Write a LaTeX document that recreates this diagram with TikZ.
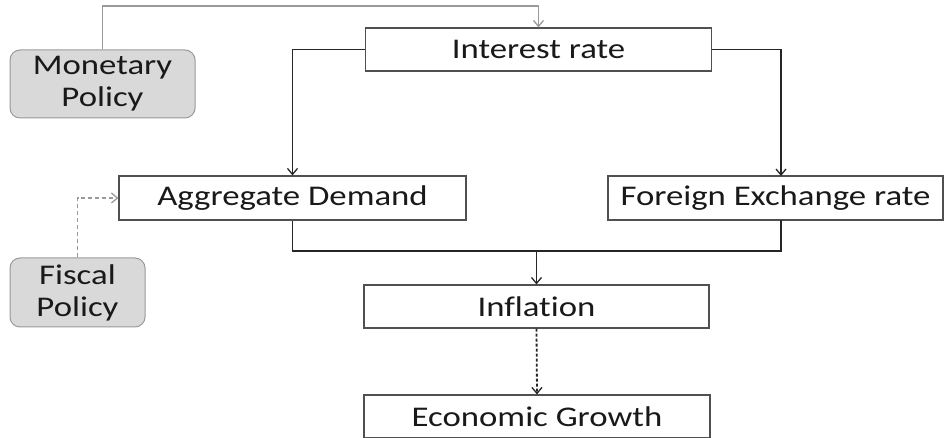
\documentclass[tikz,border=0pt]{standalone}
\usepackage{fontspec}
\setmainfont{Carlito}[FakeStretch=1.22, Ligatures=NoCommon]
\usetikzlibrary{arrows.meta}
\definecolor{linegray}{HTML}{9A9A9A}
\definecolor{fillgray}{HTML}{D9D9D9}
\definecolor{boxgray}{HTML}{505050}
\tikzset{
  x=1pt, y=1pt,
  box/.style={draw=boxgray, line width=1.1pt, fill=white, rectangle, inner sep=0pt,
    font=\fontsize{28.5}{30}\selectfont, text=black!90},
  policy/.style={draw=linegray, line width=1pt, fill=fillgray, rectangle, rounded corners=10pt,
    inner sep=0pt, align=center, font=\fontsize{28.5}{32}\selectfont, text=black!90},
  conn/.style={draw=black!85, line width=1.8pt},
  grayconn/.style={draw=linegray, line width=1.3pt},
  tip/.style={-{Straight Barb[length=6pt,width=10pt,line width=1.3pt]}},
}
\begin{document}
\begin{tikzpicture}
\useasboundingbox (0,0) rectangle (948,438);
% boxes (pixel coords, y flipped)
\node[box, minimum width=346pt, minimum height=43pt] (ir) at (538.5,388.5) {Interest rate};
\node[policy, minimum width=185pt, minimum height=68pt] (mp) at (102.5,354) {Monetary\\Policy};
\node[box, minimum width=347pt, minimum height=44pt] (ad) at (292.5,240) {Aggregate Demand};
\node[box, minimum width=335pt, minimum height=44pt] (fx) at (775.5,240) {Foreign Exchange rate};
\node[policy, minimum width=135pt, minimum height=69pt] (fp) at (77.5,145.5) {Fiscal\\Policy};
\node[box, minimum width=345pt, minimum height=43pt] (inf) at (536.5,131.5) {Inflation};
\node[box, minimum width=346pt, minimum height=43pt] (eg) at (537,21.5) {Economic Growth};
% coordinates
\coordinate (top) at (538.5,432);
\coordinate (fxin) at (781,262);
\coordinate (fxout) at (781,218);
\coordinate (j) at (536.5,187);
% connectors
\draw[grayconn, tip] (mp.north) |- (top) -- (ir.north);
\draw[conn, tip] (ir.west) -| (ad.north);
\draw[conn, tip] (ir.east) -| (fxin);
\draw[conn] (ad.south) |- (j);
\draw[conn] (fxout) |- (j);
\draw[conn, tip] (j) -- (inf.north);
\draw[conn, dash pattern=on 3pt off 2pt, tip] (inf.south) -- (eg.north);
\draw[grayconn, dash pattern=on 4pt off 3pt, tip] (fp.north) |- (ad.west);
\end{tikzpicture}
\end{document}
